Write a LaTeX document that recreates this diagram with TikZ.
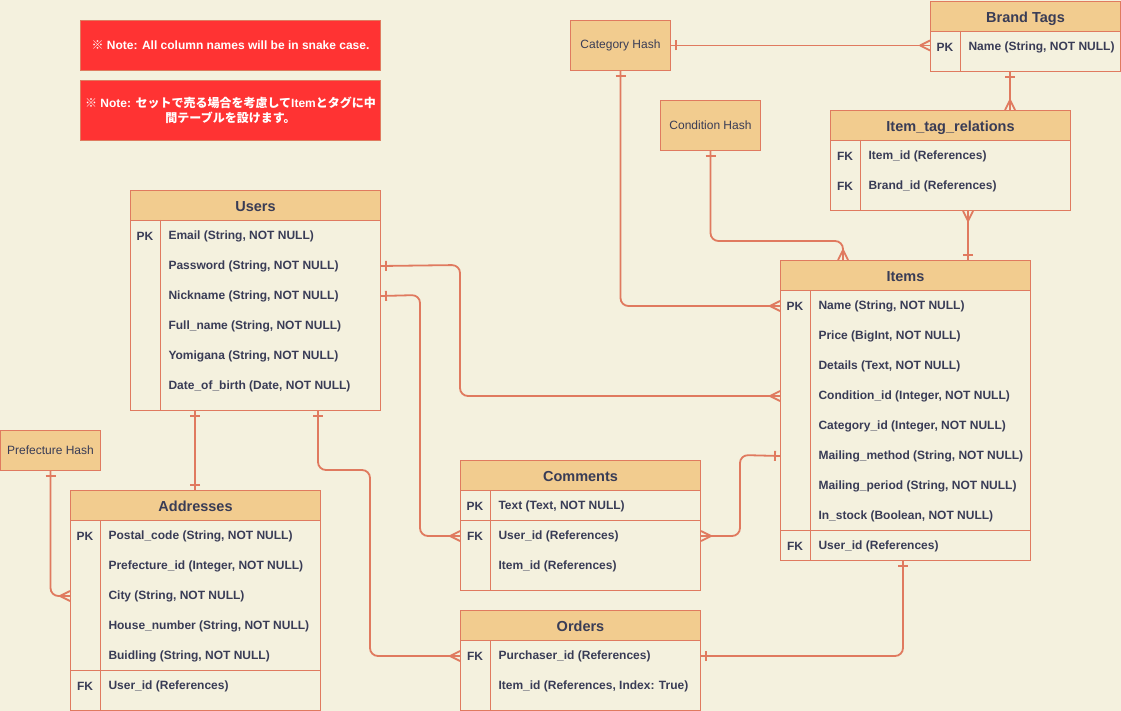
\documentclass[tikz,border=0pt]{standalone}
\usepackage{fontspec}
\setmainfont{Liberation Sans}
\newfontfamily\jpfont{Noto Sans CJK JP}
\usetikzlibrary{calc}
\definecolor{erbg}{HTML}{F4F1DE}
\definecolor{erline}{HTML}{E07A5F}
\definecolor{erfill}{HTML}{F2CC8F}
\definecolor{ertext}{HTML}{393C56}
\definecolor{ernote}{HTML}{FF3333}
\newcommand{\kome}{{\jpfont ※}}
\newcommand{\NN}{NOT NULL}

% crow's foot and single bar ends
\pgfdeclarearrow{
  name=crow,
  setup code={
    \pgfarrowssettipend{0pt}
    \pgfarrowssetlineend{0pt}
    \pgfarrowssetbackend{-10pt}
  },
  drawing code={
    \pgfpathmoveto{\pgfpoint{-10pt}{0pt}}
    \pgfpathlineto{\pgfpoint{0pt}{5pt}}
    \pgfpathmoveto{\pgfpoint{-10pt}{0pt}}
    \pgfpathlineto{\pgfpoint{0pt}{-5pt}}
    \pgfusepathqstroke
  },
}
\pgfdeclarearrow{
  name=erbar,
  setup code={
    \pgfarrowssettipend{0pt}
    \pgfarrowssetlineend{0pt}
    \pgfarrowssetbackend{-6pt}
  },
  drawing code={
    \pgfpathmoveto{\pgfpoint{-5pt}{5pt}}
    \pgfpathlineto{\pgfpoint{-5pt}{-5pt}}
    \pgfusepathqstroke
  },
}

\tikzset{
  tabhead/.style={draw=erline, fill=erfill, text=ertext, anchor=north west, minimum height=30pt, inner sep=0pt, text height=13pt, text depth=1pt, font=\bfseries\fontsize{14.5}{17}\selectfont},
  tabbody/.style={draw=erline, anchor=north west, inner sep=0pt},
  key/.style={text=ertext, inner sep=0pt, yshift=-1pt, font=\bfseries\fontsize{12}{14}\selectfont},
  fld/.style={anchor=west, text=ertext, inner sep=0pt, yshift=-1pt, font=\bfseries\fontsize{12}{14}\selectfont},
  hashbox/.style={draw=erline, fill=erfill, text=ertext, anchor=north west, minimum width=100pt, minimum height=50pt, inner sep=0pt, font=\fontsize{12}{14}\selectfont},
  notebox/.style={draw=erline, fill=ernote, text=white, anchor=north west, minimum width=300pt, align=center, inner sep=0pt, font=\bfseries\fontsize{12}{15}\selectfont},
  rel/.style={draw=erline, line width=1.8pt, rounded corners=8pt},
}

\begin{document}
\begin{tikzpicture}[x=1pt, y=-1pt, line width=1pt]
\fill[erbg] (0,0) rectangle (1121,711);
\useasboundingbox (0,0) rectangle (1121,711);

% notes
\node[notebox, minimum height=50pt] (note1) at (80,20) {\kome{} Note: All column names will be in snake case.};
\node[notebox, minimum height=60pt] (note2) at (80,80) {\kome{} Note: {\jpfont セットで売る場合を考慮して}Item{\jpfont とタグに中}\\{\jpfont 間テーブルを設けます。}};

% hash tables
\node[hashbox] (cathash) at (570,20) {Category Hash};
\node[hashbox] (condhash) at (660,100) {Condition Hash};
\node[hashbox, minimum height=40pt] (prefhash) at (0,430) {Prefecture Hash};

% Brand Tags
\node[tabhead, minimum width=190pt] (brand) at (930,1) {Brand Tags};
\node[tabbody, minimum width=190pt, minimum height=40pt] (brandbody) at (930,31) {};
\draw[erline] ([xshift=30pt]brandbody.north west) -- ([xshift=30pt]brandbody.south west);
\node[key] at (945,46) {PK};
\node[fld] (bname) at (968,46) {Name (String, \NN)};

% Item_tag_relations
\node[tabhead, minimum width=240pt] (tagrel) at (830,110) {Item\_tag\_relations};
\node[tabbody, minimum width=240pt, minimum height=70pt] (tagbody) at (830,140) {};
\draw[erline] ([xshift=30pt]tagbody.north west) -- ([xshift=30pt]tagbody.south west);
\node[key] at (845,155) {FK};
\node[fld] (titem) at (868,155) {Item\_id (References)};
\node[key] at (845,185) {FK};
\node[fld] (tbrand) at (868,185) {Brand\_id (References)};

% Users
\node[tabhead, minimum width=250pt] (users) at (130,190) {Users};
\node[tabbody, minimum width=250pt, minimum height=190pt] (usersbody) at (130,220) {};
\draw[erline] ([xshift=30pt]usersbody.north west) -- ([xshift=30pt]usersbody.south west);
\node[key] at (145,235) {PK};
\node[fld] (uemail) at (168,235) {Email (String, \NN)};
\node[fld] (upass) at (168,265) {Password (String, \NN)};
\node[fld] (unick) at (168,295) {Nickname (String, \NN)};
\node[fld] (ufull) at (168,325) {Full\_name (String, \NN)};
\node[fld] (uyomi) at (168,355) {Yomigana (String, \NN)};
\node[fld] (ubirth) at (168,385) {Date\_of\_birth (Date, \NN)};

% Items
\node[tabhead, minimum width=250pt] (items) at (780,260) {Items};
\node[tabbody, minimum width=250pt, minimum height=270pt] (itemsbody) at (780,290) {};
\draw[erline] ([xshift=30pt]itemsbody.north west) -- ([xshift=30pt]itemsbody.south west);
\draw[erline] (780,530) -- (1030,530);
\node[key] at (795,305) {PK};
\node[fld] (iname) at (818,305) {Name (String, \NN)};
\node[fld] (iprice) at (818,335) {Price (BigInt, \NN)};
\node[fld] (idetail) at (818,365) {Details (Text, \NN)};
\node[fld] (icond) at (818,395) {Condition\_id (Integer, \NN)};
\node[fld] (icat) at (818,425) {Category\_id (Integer, \NN)};
\node[fld] (imail) at (818,455) {Mailing\_method (String, \NN)};
\node[fld] (iperiod) at (818,485) {Mailing\_period (String, \NN)};
\node[fld] (istock) at (818,515) {In\_stock (Boolean, \NN)};
\node[key] at (795,545) {FK};
\node[fld] (iuser) at (818,545) {User\_id (References)};

% Addresses
\node[tabhead, minimum width=250pt] (addr) at (70,490) {Addresses};
\node[tabbody, minimum width=250pt, minimum height=190pt] (addrbody) at (70,520) {};
\draw[erline] ([xshift=30pt]addrbody.north west) -- ([xshift=30pt]addrbody.south west);
\draw[erline] (70,670) -- (320,670);
\node[key] at (85,535) {PK};
\node[fld] (apostal) at (108,535) {Postal\_code (String, \NN)};
\node[fld] (apref) at (108,565) {Prefecture\_id (Integer, \NN)};
\node[fld] (acity) at (108,595) {City (String, \NN)};
\node[fld] (ahouse) at (108,625) {House\_number (String, \NN)};
\node[fld] (abuild) at (108,655) {Buidling (String, \NN)};
\node[key] at (85,685) {FK};
\node[fld] (auser) at (108,685) {User\_id (References)};

% Comments
\node[tabhead, minimum width=240pt] (com) at (460,460) {Comments};
\node[tabbody, minimum width=240pt, minimum height=100pt] (combody) at (460,490) {};
\draw[erline] ([xshift=30pt]combody.north west) -- ([xshift=30pt]combody.south west);
\draw[erline] (460,520) -- (700,520);
\node[key] at (475,505) {PK};
\node[fld] (ctext) at (498,505) {Text (Text, \NN)};
\node[key] at (475,535) {FK};
\node[fld] (cuser) at (498,535) {User\_id (References)};
\node[fld] (citem) at (498,565) {Item\_id (References)};

% Orders
\node[tabhead, minimum width=240pt] (ord) at (460,610) {Orders};
\node[tabbody, minimum width=240pt, minimum height=70pt] (ordbody) at (460,640) {};
\draw[erline] ([xshift=30pt]ordbody.north west) -- ([xshift=30pt]ordbody.south west);
\node[key] at (475,655) {FK};
\node[fld] (opurch) at (498,655) {Purchaser\_id (References)};
\node[fld] (oitem) at (498,685) {Item\_id (References, Index: True)};

% relations
\draw[rel, erbar-crow] (cathash.east) -- (brandbody.west |- cathash.east);
\draw[rel, erbar-crow] (cathash.south) |- (itemsbody.west |- iname);
\draw[rel, erbar-crow] ([xshift=80pt]brandbody.south west) -- ([xshift=180pt]tagrel.north west);
\draw[rel, erbar-crow] (condhash.south) -- ++(0,90) -| ([xshift=63pt]items.north west);
\draw[rel, crow-erbar] ([xshift=138pt]tagbody.south west) -- ([xshift=188pt]items.north west);
\draw[rel, erbar-crow] (usersbody.east |- upass) -- (460,265) |- (itemsbody.west |- icond);
\draw[rel, erbar-crow] (usersbody.east |- unick) -- (420,295) |- (combody.west |- cuser);
\draw[rel, erbar-erbar] ([xshift=65pt]usersbody.south west) -- ([xshift=125pt]addr.north west);
\draw[rel, erbar-crow] ([xshift=188pt]usersbody.south west) -- (318,470) -- (370,470) |- (ordbody.west |- opurch);
\draw[rel, erbar-crow] (prefhash.south) |- (addrbody.west |- acity);
\draw[rel, erbar-crow] (itemsbody.west |- imail) -- (740,455) |- (combody.east |- cuser);
\draw[rel, erbar-erbar] ([xshift=123pt]itemsbody.south west) |- (ordbody.east |- opurch);
\end{tikzpicture}
\end{document}
